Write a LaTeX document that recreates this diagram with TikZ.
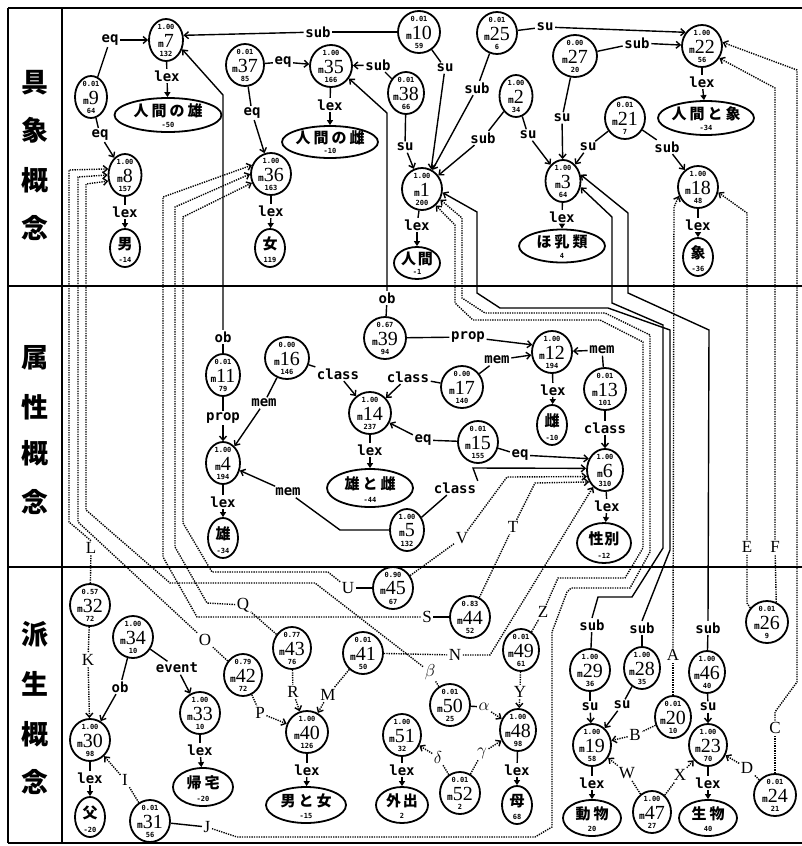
\documentclass[tikz,border=0pt]{standalone}
\usepackage{fontspec}
\setmainfont{Liberation Serif}
\newfontfamily\myjfont{Noto Sans CJK JP}
\newfontfamily\myrfont{DejaVu Sans Mono}
\usetikzlibrary{shapes.geometric,arrows.meta,calc}
\newcommand{\relf}{\myrfont\bfseries\fontsize{14}{14}\selectfont}
\newcommand{\ltrf}{\fontsize{17}{17}\selectfont}
\newcommand{\tnf}{\myrfont\bfseries\fontsize{7}{7}\selectfont}
\newcommand{\nnf}{\fontsize{20}{20}\selectfont}
\newcommand{\mlf}{\myrfont\bfseries\fontsize{9.5}{9.5}\selectfont}
\newcommand{\jtf}{\myjfont\bfseries\fontsize{15}{15}\selectfont}
\newcommand{\secf}{\myjfont\bfseries\fontsize{27}{27}\selectfont}
\tikzset{
 mnode/.style={ellipse,draw,line width=1.8pt,minimum height=42pt,inner sep=0pt},
 lexe/.style={ellipse,draw,line width=1.8pt,inner sep=0pt},
 tnode/.style={inner sep=0pt,font=\tnf},
 nnode/.style={inner sep=0pt},
 jtext/.style={inner sep=0pt,font=\jtf},
 rel/.style={inner sep=1.5pt,font=\relf},
 ltr/.style={inner sep=1.5pt,font=\ltrf},
 sec/.style={inner sep=0pt,font=\secf},
 sol/.style={line width=1.4pt},
 arr/.style={sol,-{Straight Barb[length=4pt,width=7pt]}},
 dot/.style={line width=1.4pt,dash pattern=on 1.3pt off 1.1pt},
 darr/.style={dot,-{Straight Barb[length=4pt,width=7pt]}},
 lexarr/.style={sol,-{Triangle[length=5pt,width=6pt]}},
 frame/.style={line width=1.8pt}
}
\newcommand{\mnd}[6][38]{%
 \node[mnode,minimum width=#1pt] (#2) at (#3) {};
 \node[tnode] (#2-t) at ($(#3)+(0,-13.5)$) {#4};
 \node[nnode] (#2-n) at ($(#3)+(0,0.5)$) {{\mlf m}{\nnf #5}};
 \node[tnode] (#2-b) at ($(#3)+(0,13.5)$) {#6};}
\newcommand{\lxe}[6]{%
 \node[lexe,minimum width=#3pt,minimum height=#4pt] (#1) at (#2) {};
 \node[jtext] (#1-t) at ($(#2)+(0,-4)$) {#5};
 \node[tnode] (#1-n) at ($(#2)+(0,{#4/2-7})$) {#6};}
\newcommand{\rl}[5]{\node[rel] (#2) at (#3) {#4}; \draw[sol] (#1) -- (#2); \draw[arr] (#2) -- (#5);}
\newcommand{\dl}[5]{\node[ltr] (#2) at (#3) {#4}; \draw[dot] (#1) -- (#2); \draw[darr] (#2) -- (#5);}
\newcommand{\lexr}[3]{\node[rel] (#1-lx) at (#2) {lex}; \draw[sol] (#1) -- (#1-lx); \draw[lexarr] (#1-lx) -- (#3);}
\begin{document}
\begin{tikzpicture}[x=1pt,y=-1pt]
\useasboundingbox (0,0) rectangle (802,846);
% frame
\draw[frame] (8,8) -- (802,8);
\draw[frame] (8,843) -- (802,843);
\draw[frame] (8,8) -- (8,843);
\draw[frame] (62,8) -- (62,843);
\draw[frame] (8,286) -- (802,286);
\draw[frame] (8,567) -- (802,567);
% section labels
\node[sec] (sa1) at (35,83) {具};
\node[sec] (sa2) at (35,130) {象};
\node[sec] (sa3) at (35,180) {概};
\node[sec] (sa4) at (35,228) {念};
\node[sec] (sb1) at (35,358) {属};
\node[sec] (sb2) at (35,407) {性};
\node[sec] (sb3) at (35,453) {概};
\node[sec] (sb4) at (35,502) {念};
\node[sec] (sc1) at (35,634) {派};
\node[sec] (sc2) at (35,684) {生};
\node[sec] (sc3) at (35,734) {概};
\node[sec] (sc4) at (35,782) {念};
% ---------- nodes: upper
\mnd[34]{m7}{166,40}{1.00}{7}{132}
\mnd[32]{m9}{91,97}{0.01}{9}{64}
\mnd[33]{m8}{125,175}{1.00}{8}{157}
\mnd{m37}{245,65}{0.01}{37}{85}
\mnd[42]{m35}{331,66}{1.00}{35}{166}
\mnd[40]{m36}{271,174}{1.00}{36}{163}
\mnd[42]{m10}{419,32}{0.01}{10}{59}
\mnd[36]{m38}{406,93}{0.01}{38}{66}
\mnd[40]{m25}{497,33}{0.01}{25}{6}
\mnd[33]{m2}{516,96}{1.00}{2}{34}
\mnd[40]{m1}{422,189}{1.00}{1}{200}
\mnd[44]{m27}{575,56}{0.00}{27}{20}
\mnd[40]{m22}{702,46}{1.00}{22}{56}
\mnd[40]{m21}{625,118}{0.01}{21}{7}
\mnd[35]{m3}{563,181}{1.00}{3}{64}
\mnd[40]{m18}{698,187}{1.00}{18}{48}
\lxe{e7}{168,115}{107}{34}{人\hspace{3pt}間\hspace{3pt}の\hspace{3pt}雄}{-50}
\lxe{e8}{125,248}{30}{38}{男}{-14}
\lxe{e35}{330,142}{96}{32}{人\hspace{3pt}間\hspace{3pt}の\hspace{3pt}雌}{-10}
\lxe{e36}{270,248}{30}{38}{女}{119}
\lxe{e1}{417,263}{46}{32}{人\hspace{2pt}間}{-1}
\lxe{e3}{562,246}{86}{33}{ほ\hspace{3pt}乳\hspace{3pt}類}{4}
\lxe{e22}{706,118}{96}{34}{人\hspace{3pt}間\hspace{3pt}と\hspace{3pt}象}{-34}
\lxe{e18}{698,257}{30}{38}{象}{-36}
% ---------- nodes: middle
\mnd[34]{m11}{223,375}{0.01}{11}{79}
\mnd[44]{m16}{287,358}{0.00}{16}{146}
\mnd[34]{m4}{223,463}{1.00}{4}{194}
\mnd[42]{m39}{385,338}{0.67}{39}{94}
\mnd[42]{m14}{370,413}{1.00}{14}{237}
\mnd[42]{m17}{462,387}{0.00}{17}{140}
\mnd[40]{m12}{552,352}{1.00}{12}{194}
\mnd[42]{m13}{605,389}{0.01}{13}{101}
\mnd[40]{m15}{478,442}{0.01}{15}{155}
\mnd[34]{m5}{407,530}{1.00}{5}{132}
\mnd[36]{m6}{605,470}{1.00}{6}{310}
\lxe{e4}{223,538}{30}{40}{雄}{-34}
\lxe{e14}{370,488}{86}{38}{雄\hspace{3pt}と\hspace{3pt}雌}{-44}
\lxe{e12}{552,425}{30}{40}{雌}{-10}
\lxe{e6}{604,543}{54}{40}{性\hspace{1pt}別}{-12}
% ---------- nodes: lower
\mnd[40]{m32}{90,605}{0.57}{32}{72}
\mnd[40]{m34}{133,637}{1.00}{34}{10}
\mnd[40]{m30}{90,740}{1.00}{30}{98}
\mnd[40]{m31}{150,821}{0.01}{31}{56}
\mnd[40]{m33}{200,713}{1.00}{33}{10}
\mnd[38]{m42}{243,675}{0.79}{42}{72}
\mnd[38]{m43}{292,648}{0.77}{43}{76}
\mnd[42]{m40}{307,732}{1.00}{40}{126}
\mnd[40]{m41}{363,653}{0.01}{41}{50}
\mnd[40]{m45}{393,588}{0.90}{45}{67}
\mnd[40]{m44}{470,617}{0.83}{44}{52}
\mnd[40]{m50}{450,705}{0.01}{50}{25}
\mnd[38]{m51}{402,735}{1.00}{51}{32}
\mnd[40]{m52}{460,793}{0.01}{52}{2}
\mnd[36]{m49}{521,650}{0.01}{49}{61}
\mnd[36]{m48}{518,730}{1.00}{48}{98}
\mnd[40]{m29}{590,670}{1.00}{29}{36}
\mnd[36]{m28}{642,668}{1.00}{28}{35}
\mnd[38]{m19}{592,745}{1.00}{19}{58}
\mnd[36]{m20}{673,717}{0.01}{20}{10}
\mnd[36]{m46}{707,672}{1.00}{46}{40}
\mnd[38]{m23}{708,745}{1.00}{23}{70}
\mnd[38]{m47}{652,812}{1.00}{47}{27}
\mnd[42]{m24}{775,795}{0.01}{24}{21}
\mnd[42]{m26}{767,622}{0.01}{26}{9}
\lxe{e30}{90,817}{30}{40}{父}{-20}
\lxe{e33}{203,787}{60}{38}{帰\hspace{3pt}宅}{-20}
\lxe{e40}{306,805}{80}{36}{男\hspace{3pt}と\hspace{3pt}女}{-15}
\lxe{e51}{402,805}{52}{36}{外\hspace{2pt}出}{2}
\lxe{e48}{517,805}{30}{38}{母}{68}
\lxe{e19}{592,818}{58}{36}{動\hspace{3pt}物}{20}
\lxe{e23}{708,818}{58}{36}{生\hspace{3pt}物}{40}
% ---------- edges: upper
\rl{m9}{eq97}{110,40}{eq}{m7}
\rl{m9}{eq98}{100,135}{eq}{m8}
\lexr{m7}{167,76}{e7}
\lexr{m8}{125,212}{e8}
\rl{m10}{sub107}{318,32}{sub}{m7.15}
\rl{m37}{eq3735}{283,62}{eq}{m35}
\rl{m37}{eq3736}{252,113}{eq}{m36}
\rl{m38}{sub3835}{378,65}{sub}{m35}
\lexr{m35}{330,105}{e35}
\lexr{m36}{271,211}{e36}
\rl{m10}{su101}{445,68}{su}{m1.65}
\rl{m38}{su381}{405,147}{su}{m1}
\rl{m25}{sub251}{477,88}{sub}{m1}
\rl{m2}{sub21}{483,138}{sub}{m1}
\rl{m2}{su23}{528,135}{su}{m3}
\rl{m25}{su2522}{545,27}{su}{m22.140}
\lexr{m1}{417,225}{e1}
\rl{m27}{sub2722}{637,43}{sub}{m22}
\rl{m27}{su273}{562,118}{su}{m3}
\rl{m21}{su213}{588,147}{su}{m3}
\rl{m21}{sub2118}{667,147}{sub}{m18}
\lexr{m22}{702,82}{e22}
\lexr{m3}{562,217}{e3}
\lexr{m18}{698,225}{e18}
% ---------- edges: middle
\node[rel] (ob117) at (223,337) {ob};
\draw[sol] (m11) -- (ob117);
\draw[arr] (ob117.north) -- (223,95) -- (m7.-30);
\rl{m11}{prop114}{223,418}{prop}{m4}
\lexr{m4}{223,502}{e4}
\rl{m16}{mem164}{264,403}{mem}{m4}
\rl{m16}{cls1614}{338,374}{class}{m14}
\lexr{m14}{370,450}{e14}
\rl{m17}{cls1714}{408,377}{class}{m14}
\rl{m17}{mem1712}{497,360}{mem}{m12}
\rl{m39}{prop3912}{468,337}{prop}{m12.160}
\node[rel] (ob3935) at (387,298) {ob};
\draw[sol] (m39) -- (ob3935);
\draw[arr] (ob3935.north) -- (387,113) -- (m35.-35);
\rl{m13}{mem1312}{602,350}{mem}{m12}
\rl{m13}{cls136}{605,428}{class}{m6}
\lexr{m12}{553,390}{e12}
\rl{m15}{eq1514}{423,440}{eq}{m14}
\rl{m15}{eq156}{520,455}{eq}{m6.145}
\lexr{m6}{607,506}{e6}
\node[rel] (mem54) at (288,492) {mem};
\draw[sol] (m5) -- (340,530) -- (mem54);
\draw[arr] (mem54) -- (m4);
\node[rel] (cls56) at (455,488) {class};
\draw[sol] (m5) -- (cls56);
\draw[arr] (cls56.north east) -- (473,468) -- (m6.175);
% ---------- edges: lower
\dl{m32}{K}{88,660}{K}{m30}
\rl{m34}{ob3430}{120,687}{ob}{m30}
\rl{m34}{ev3433}{177,668}{event}{m33}
\lexr{m33}{200,750}{e33}
\lexr{m30}{90,778}{e30}
\dl{m31}{I}{125,780}{I}{m30}
\dl{m42}{P}{260,713}{P}{m40}
\dl{m43}{R}{293,692}{R}{m40}
\dl{m41}{M}{328,695}{M}{m40}
\lexr{m40}{307,770}{e40}
\lexr{m51}{402,770}{e51}
\lexr{m48}{517,770}{e48}
\node[ltr] (al) at (484,707) {$\alpha$};
\draw[sol] (m50) -- (al);
\draw[darr] (al) -- (m48);
\dl{m52}{de}{438,757}{$\delta$}{m51}
\dl{m52}{ga}{482,753}{$\gamma$}{m48}
\dl{m49}{Y}{520,692}{Y}{m48}
\rl{m29}{su2919}{590,707}{su}{m19}
\rl{m28}{su2819}{622,705}{su}{m19}
\rl{m46}{su4623}{708,707}{su}{m23}
\lexr{m19}{592,783}{e19}
\lexr{m23}{708,783}{e23}
\dl{m20}{B}{635,735}{B}{m19}
\dl{m47}{W}{627,773}{W}{m19}
\dl{m47}{X}{680,775}{X}{m23}
\dl{m24}{D}{747,768}{D}{m23}
% long routes to m8
\node[ltr] (L) at (91,548) {L};
\draw[dot] (m32) -- (L);
\draw[darr] (L.north) -- (69,522) -- (69,170) -- (m8.160);
\node[ltr] (O) at (205,640) {O};
\draw[dot] (m42) -- (O);
\draw[darr] (O) -- (78,522) -- (78,177) -- (m8.180);
\node[ltr] (be) at (430,672) {$\beta$};
\draw[dot] (m50) -- (be);
\draw[darr] (be) -- (315,583) -- (170,583) -- (86,510) -- (86,184) -- (m8.200);
% long routes to m36
\node[ltr] (S) at (427,617) {S};
\draw[sol] (m44) -- (S);
\draw[darr] (S) -- (197,617) -- (163,557) -- (163,197) -- (m36.155);
\node[ltr] (Q) at (243,605) {Q};
\draw[dot] (m43) -- (Q);
\draw[darr] (Q) -- (207,603) -- (175,547) -- (175,207) -- (m36.180);
\node[ltr] (U) at (348,588) {U};
\draw[sol] (m45) -- (U);
\draw[darr] (U) -- (328,572) -- (212,572) -- (183,523) -- (183,217) -- (m36.205);
% routes to m6
\node[ltr] (T) at (513,527) {T};
\draw[dot] (m44) -- (T);
\draw[darr] (T) -- (535,483) -- (m6.217);
\node[ltr] (V) at (462,538) {V};
\draw[dot] (m45) -- (V);
\draw[darr] (V) -- (507,477) -- (m6.200);
\node[ltr] (N) at (455,655) {N};
\draw[dot] (m41) -- (N);
\draw[darr] (N) -- (490,655) -- (m6.235);
% routes to m1 and m3
\node[ltr] (Z) at (543,612) {Z};
\draw[dot] (m49) -- (Z);
\draw[darr] (Z) -- (558,578) -- (625,578) -- (643,548) -- (643,342) -- (600,320) -- (473,320) -- (455,303) -- (455,225) -- (m1.-50);
\node[ltr] (J) at (207,827) {J};
\draw[sol] (m31) -- (J);
\draw[darr] (J) -- (237,837) -- (535,837) -- (552,827) -- (552,632) -- (567,592) -- (571,588) -- (630,588) -- (650,552) -- (650,335) -- (605,313) -- (485,313) -- (462,298) -- (462,218) -- (m1.-30);
\node[rel] (sub28) at (642,628) {sub};
\draw[sol] (m28) -- (sub28);
\draw[arr] (sub28.north) -- (670,550) -- (670,330) -- (608,308) -- (500,308) -- (477,293) -- (477,212) -- (m1.-10);
\node[rel] (sub29) at (592,625) {sub};
\draw[sol] (m29) -- (sub29);
\draw[arr] (sub29.north) -- (598,597) -- (632,597) -- (663,548) -- (663,325) -- (612,303) -- (612,217) -- (m3.-20);
\node[rel] (sub46) at (708,628) {sub};
\draw[sol] (m46) -- (sub46);
\draw[arr] (sub46.north) -- (709,330) -- (628,293) -- (628,213) -- (m3.20);
% routes to m18 and m22
\node[ltr] (A) at (673,655) {A};
\draw[dot] (m20) -- (A);
\draw[darr] (A.north) -- (674,207) -- (m18.205);
\node[ltr] (E) at (747,547) {E};
\draw[dot] (m26.140) -- (747,603) -- (E);
\draw[darr] (E) -- (747,213) -- (m18.-15);
\node[ltr] (F) at (775,547) {F};
\draw[dot] (m26.65) -- (F);
\draw[darr] (F) -- (775,88) -- (m22.-35);
\node[ltr] (C) at (775,728) {C};
\draw[dot] (m24) -- (C);
\draw[darr] (C) -- (775,712) -- (797,682) -- (797,70) -- (m22.10);
\end{tikzpicture}
\end{document}
